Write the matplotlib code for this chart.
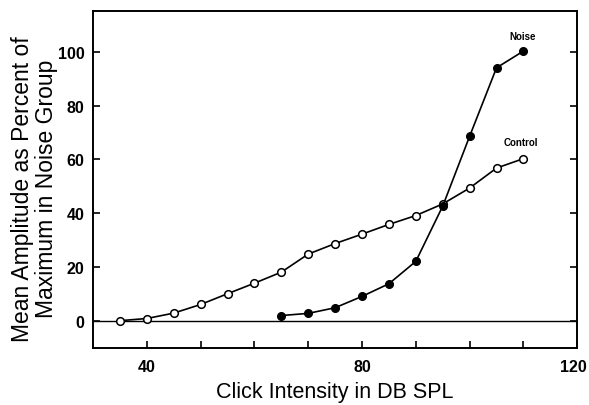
import numpy as np
import matplotlib.pyplot as plt
import matplotlib.transforms as mtransforms

plt.rcParams['font.family'] = ['Liberation Sans', 'DejaVu Sans']

# значения
control_db = [35, 40, 45, 50, 55, 60, 65, 70, 75, 80, 85, 90, 95, 100, 105, 110]
control_amp = [0.2, 1.0, 3.0, 6.2, 10.2, 14.1, 18.2, 24.9, 28.8, 32.3, 35.9, 39.2, 43.5, 49.4, 56.8, 60.3]

noise_db = [65, 70, 75, 80, 85, 90, 95, 100, 105, 110]
noise_amp = [2.1, 2.9, 5.0, 9.2, 13.9, 22.2, 42.7, 68.6, 94.0, 100.2]

xticks = [40, 80, 120]
xminor = [50, 60, 70, 90, 100, 110]
yticks = [0, 20, 40, 60, 80, 100]

fig = plt.figure(figsize=(5.89, 4.06), dpi=100)
ax = fig.add_axes([0.158, 0.140, 0.822, 0.830])

ax.axhline(0, color='black', lw=1.0, zorder=1)
ax.plot(control_db, control_amp, color='black', lw=1.2, marker='o', ms=5.5,
        mfc='white', mec='black', mew=1.1, zorder=3)
ax.plot(noise_db, noise_amp, color='black', lw=1.2, marker='o', ms=5.5,
        mfc='black', mec='black', zorder=4)

ax.text(109.8, 105.7, 'Noise', fontsize=7, fontweight='bold', ha='center', va='center')
ax.text(109.6, 66.3, 'Control', fontsize=7, fontweight='bold', ha='center', va='center')

ax.set_xlim(30, 120)
ax.set_ylim(-10, 115)
ax.set_xticks(xticks)
ax.set_xticks(xminor, minor=True)
ax.set_yticks(yticks)
ax.tick_params(axis='both', which='both', direction='in', length=5, width=1.2)
ax.tick_params(axis='y', right=True, pad=6)
ax.tick_params(axis='x', pad=8)
for lab in ax.get_xticklabels() + ax.get_yticklabels():
    lab.set_fontsize(11.5)
    lab.set_fontweight('bold')

# подпись 120 чуть левее, чтобы не обрезалась краем
last = ax.get_xticklabels()[-1]
last.set_transform(last.get_transform() +
                   mtransforms.ScaledTranslation(-0.04, 0, fig.dpi_scale_trans))

for s in ax.spines.values():
    s.set_linewidth(1.4)

ax.set_xlabel('Click Intensity in DB SPL', fontsize=15.5)
ax.xaxis.set_label_coords(0.5, -0.128)
ax.xaxis.label.set_va('center')
ax.set_ylabel('Mean Amplitude as Percent of\nMaximum in Noise Group', fontsize=16.5,
              linespacing=1.05)
ax.yaxis.set_label_coords(-0.121, 0.476)
ax.yaxis.label.set_va('center')

fig.savefig('out.png', dpi=100)
